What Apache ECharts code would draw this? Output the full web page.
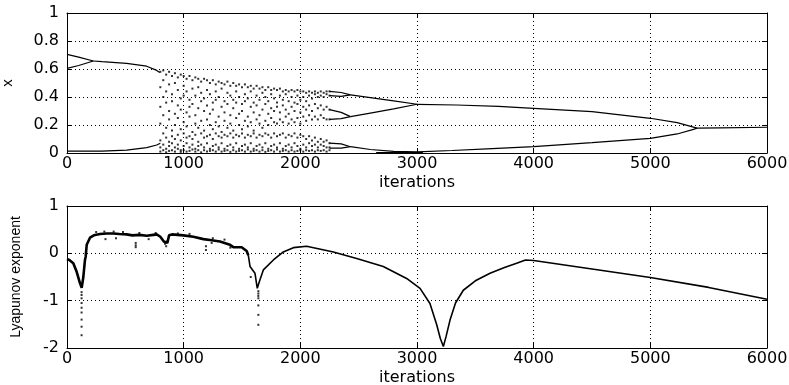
<!DOCTYPE html>
<html>
<head>
<meta charset="utf-8">
<script src="https://cdn.jsdelivr.net/npm/echarts@6/dist/echarts.min.js"></script>
<style>
html,body{margin:0;padding:0;background:#fff;}
#c{width:789px;height:385px;}
</style>
</head>
<body>
<div id="c"></div>
<script>
// ---------- top panel: bifurcation diagram (iterations, x) ----------
const branchEarlyA = [[0,0.705],[100,0.685],[226,0.657]];
const branchEarlyB = [[0,0.605],[100,0.625],[226,0.657]];
const branchEarlyTop = [[226,0.657],[300,0.652],[511,0.64],[683,0.62],[769,0.59],[795,0.575]];
const branchEarlyLow = [[0,0.014],[300,0.014],[511,0.021],[683,0.038],[769,0.057],[800,0.07]];
const branchUpA = [[2250,0.44],[2350,0.432],[2430,0.415]];
const branchUpB = [[2250,0.41],[2350,0.405],[2430,0.415]];
const branchUp = [[2430,0.415],[2600,0.395],[2800,0.372],[3000,0.348]];
const branchMidA = [[2250,0.31],[2350,0.29],[2430,0.26]];
const branchMidB = [[2250,0.24],[2350,0.245],[2430,0.26]];
const branchMid = [[2430,0.26],[2600,0.285],[2800,0.315],[3000,0.348]];
const branchLowA = [[2250,0.07],[2350,0.065],[2430,0.045]];
const branchLowB = [[2250,0.035],[2350,0.035],[2430,0.045]];
const branchLow = [[2430,0.045],[2600,0.025],[2800,0.012],[3000,0.008],[3300,0.018],[3600,0.03],[4000,0.045],[4500,0.074],[5000,0.105],[5230,0.136],[5370,0.169],[5400,0.178]];
const branchNearZero = [[2650,0.003],[2800,0.002],[3050,0.003]];
const branchFinal = [[3000,0.348],[3340,0.343],[3700,0.333],[4000,0.319],[4500,0.295],[5000,0.248],[5230,0.217],[5400,0.178],[5600,0.18],[6000,0.184]];

const chaosIters = [800,825,850,875,900,925,950,975,1000,1025,1050,1075,1100,1125,1150,1175,1200,1225,1250,1275,1300,1325,1350,1375,1400,1425,1450,1475,1500,1525,1550,1575,1600,1625,1650,1675,1700,1725,1750,1775,1800,1825,1850,1875,1900,1925,1950,1975,2000,2025,2050,2075,2100,2125,2150,2175,2200,2225,2250];
const chaosCols = [
 [0.58,0.47,0.33,0.21,0.09,0.04,0.01],
 [0.59,0.52,0.40,0.27,0.14,0.06,0.02],
 [0.56,0.44,0.36,0.18,0.11,0.03,0.005],
 [0.58,0.49,0.30,0.24,0.08,0.05,0.015],
 [0.55,0.42,0.37,0.16,0.12,0.07,0.02],
 [0.57,0.50,0.28,0.20,0.10,0.04,0.01],
 [0.54,0.45,0.34,0.25,0.13,0.06,0.03],
 [0.56,0.39,0.31,0.17,0.09,0.02,0.008],
 [0.55,0.48,0.41,0.22,0.14,0.05,0.02],
 [0.53,0.44,0.29,0.19,0.11,0.07,0.01],
 [0.55,0.38,0.33,0.26,0.12,0.04,0.015],
 [0.52,0.46,0.35,0.15,0.10,0.06,0.025],
 [0.54,0.41,0.27,0.21,0.13,0.03,0.01],
 [0.53,0.47,0.32,0.18,0.08,0.05,0.02],
 [0.51,0.43,0.37,0.23,0.14,0.06,0.005],
 [0.53,0.39,0.30,0.16,0.11,0.04,0.02],
 [0.52,0.45,0.34,0.24,0.12,0.07,0.01],
 [0.50,0.42,0.28,0.20,0.13,0.03,0.015],
 [0.52,0.36,0.31,0.17,0.10,0.05,0.02],
 [0.49,0.44,0.38,0.22,0.14,0.06,0.01],
 [0.51,0.40,0.26,0.19,0.12,0.04,0.025],
 [0.50,0.46,0.33,0.15,0.11,0.07,0.01],
 [0.49,0.37,0.29,0.23,0.13,0.03,0.015],
 [0.51,0.43,0.35,0.18,0.12,0.05,0.02],
 [0.48,0.41,0.27,0.21,0.14,0.06,0.008],
 [0.50,0.38,0.32,0.16,0.11,0.04,0.02],
 [0.48,0.44,0.36,0.25,0.13,0.07,0.01],
 [0.49,0.40,0.28,0.20,0.12,0.03,0.015],
 [0.47,0.35,0.30,0.17,0.14,0.05,0.02],
 [0.49,0.42,0.37,0.23,0.11,0.06,0.01],
 [0.47,0.39,0.26,0.19,0.13,0.04,0.025],
 [0.48,0.44,0.33,0.22,0.12,0.07,0.01],
 [0.46,0.36,0.29,0.16,0.14,0.03,0.015],
 [0.48,0.41,0.34,0.24,0.11,0.05,0.02],
 [0.46,0.38,0.27,0.21,0.13,0.06,0.01],
 [0.47,0.43,0.31,0.18,0.12,0.04,0.02],
 [0.45,0.40,0.35,0.23,0.14,0.07,0.008],
 [0.47,0.37,0.28,0.20,0.13,0.03,0.015],
 [0.45,0.42,0.32,0.25,0.11,0.05,0.02],
 [0.46,0.39,0.30,0.22,0.14,0.06,0.01],
 [0.45,0.36,0.33,0.21,0.12,0.04,0.025],
 [0.46,0.41,0.29,0.24,0.13,0.07,0.01],
 [0.44,0.38,0.34,0.22,0.14,0.03,0.015],
 [0.45,0.42,0.31,0.26,0.11,0.05,0.02],
 [0.44,0.37,0.28,0.21,0.13,0.06,0.01],
 [0.45,0.40,0.33,0.24,0.12,0.04,0.02],
 [0.44,0.36,0.30,0.22,0.14,0.07,0.01],
 [0.45,0.41,0.35,0.25,0.11,0.05,0.015],
 [0.44,0.38,0.29,0.21,0.13,0.03,0.02],
 [0.44,0.40,0.33,0.26,0.12,0.06,0.01],
 [0.43,0.37,0.31,0.23,0.10,0.04,0.02],
 [0.44,0.41,0.34,0.27,0.12,0.07,0.015],
 [0.43,0.39,0.30,0.24,0.09,0.05,0.02],
 [0.44,0.42,0.35,0.26,0.11,0.06,0.01],
 [0.43,0.40,0.32,0.24,0.08,0.04,0.02],
 [0.44,0.41,0.34,0.27,0.10,0.06,0.015],
 [0.43,0.40,0.31,0.25,0.08,0.05,0.02],
 [0.44,0.42,0.33,0.24,0.09,0.04,0.01],
 [0.44,0.41,0.31,0.24,0.07,0.04,0.02]
];

// ---------- bottom panel: Lyapunov exponent ----------
const lyapChaotic = [[0,-0.12],[20,-0.14],[54,-0.21],[83,-0.39],[111,-0.63],[126,-0.73],[140,-0.5],[154,-0.14],[160,-0.07],[169,0.18],[197,0.33],[230,0.38],[283,0.41],[340,0.42],[397,0.42],[450,0.41],[511,0.40],[560,0.38],[620,0.39],[683,0.37],[740,0.39],[769,0.40],[800,0.35],[830,0.25],[860,0.22],[875,0.38],[900,0.40],[997,0.38],[1083,0.35],[1169,0.30],[1226,0.28],[1311,0.25],[1397,0.18],[1426,0.13],[1497,0.13],[1540,0.05],[1554,-0.04]];
const lyapRegular = [[1554,-0.04],[1569,-0.28],[1611,-0.42],[1631,-0.74],[1654,-0.56],[1683,-0.35],[1769,-0.14],[1854,0.03],[1940,0.12],[2054,0.15],[2283,0.03],[2483,-0.11],[2711,-0.28],[2911,-0.53],[3026,-0.74],[3111,-1.06],[3169,-1.51],[3200,-1.8],[3226,-1.97],[3250,-1.75],[3283,-1.41],[3330,-1.05],[3397,-0.78],[3500,-0.58],[3626,-0.42],[3750,-0.3],[3854,-0.21],[3930,-0.14],[4000,-0.15],[4500,-0.33],[5000,-0.51],[5500,-0.72],[6000,-0.97]];
const lyapSpikes = [[125,-0.82],[125,-0.88],[125,-0.95],[125,-1.05],[125,-1.15],[125,-1.25],[125,-1.4],[125,-1.55],[125,-1.73],
 [1640,-0.8],[1640,-0.85],[1640,-0.9],[1640,-0.95],[1640,-1.1],[1640,-1.3],[1640,-1.51],[1575,-0.5],
 [330,0.3],[420,0.32],[589,0.22],[589,0.17],[589,0.13],[700,0.3],[840,0.2],[850,0.15],[860,0.26],[1191,0.15],[1191,0.07],[1240,0.22],[1400,0.12],
 [250,0.45],[320,0.46],[400,0.46],[480,0.45],[620,0.43],[760,0.43],[950,0.42],[1050,0.41],[1250,0.32],[1350,0.29]];

const iterMin = 0, iterMax = 6000, iterStep = 1000;

const tickFont = 'DejaVu Sans, Verdana, sans-serif';
const nameFont = 'Liberation Sans, Arial, sans-serif';
const dotted = {show:true, lineStyle:{color:'#000', type:[1,3], width:1}};
function xAx(gi, withLabels){
  return {type:'value', gridIndex:gi, min:iterMin, max:iterMax, interval:iterStep,
    name: withLabels ? 'iterations' : '', nameLocation:'middle', nameGap:22,
    nameTextStyle:{color:'#000', fontFamily:tickFont, fontSize:16},
    axisLine:{show:true, onZero:false, lineStyle:{color:'#000', width:1}},
    axisTick:{show:true, inside:true, length:5, lineStyle:{color:'#000'}},
    axisLabel:{show:withLabels, color:'#000', fontFamily:tickFont, fontSize:16, margin:3,
      formatter: v => String(v)},
    splitLine: withLabels ? dotted : {show:false},
    position: withLabels ? 'bottom' : 'top'};
}
function yAx(gi, min, max, step, name, gap, left, nameSize){
  return {type:'value', gridIndex:gi, min:min, max:max, interval:step,
    name: left ? name : '', nameLocation:'middle', nameRotate:90, nameGap:gap,
    nameTextStyle:{color:'#000', fontFamily:nameFont, fontSize:nameSize},
    axisLine:{show:true, onZero:false, lineStyle:{color:'#000', width:1}},
    axisTick:{show:true, inside:true, length:5, lineStyle:{color:'#000'}},
    axisLabel:{show:left, color:'#000', fontFamily:tickFont, fontSize:16, margin:8,
      formatter: v => String(v)},
    splitLine: left ? dotted : {show:false},
    position: left ? 'left' : 'right'};
}
function lineS(data, xi, yi, w){
  return {type:'line', data:data, xAxisIndex:xi, yAxisIndex:yi, showSymbol:false, symbol:'none',
    lineStyle:{color:'#000', width:w}, silent:true, z:3};
}
const series = [];
[branchEarlyA,branchEarlyB,branchEarlyTop,branchEarlyLow,branchUpA,branchUpB,branchUp,branchMidA,branchMidB,branchMid,branchLowA,branchLowB,branchLow,branchNearZero,branchFinal]
  .forEach(b => series.push(lineS(b,0,0,1.2)));
const chaosPts = [];
chaosIters.forEach((it,i) => chaosCols[i].forEach(v => chaosPts.push([it, v])));
series.push({type:'scatter', data:chaosPts, xAxisIndex:0, yAxisIndex:0, symbol:'rect', symbolSize:2,
  itemStyle:{color:'#000'}, silent:true, z:3});
series.push(lineS(lyapChaotic,2,2,2.6));
series.push(lineS(lyapRegular,2,2,1.6));
series.push({type:'scatter', data:lyapSpikes, xAxisIndex:2, yAxisIndex:2, symbol:'rect', symbolSize:2,
  itemStyle:{color:'#000'}, silent:true, z:3});

const chart = echarts.init(document.getElementById('c'), null, {renderer:'canvas'});
chart.setOption({
  backgroundColor:'#fff',
  animation:false,
  grid:[
    {left:67, right:22, top:13, height:140, containLabel:false, outerBoundsMode:'none'},
    {left:67, right:22, top:206, height:142, containLabel:false, outerBoundsMode:'none'}
  ],
  xAxis:[xAx(0,true), xAx(0,false), xAx(1,true), xAx(1,false)],
  yAxis:[yAx(0,0,1,0.2,'x',52,true,15), yAx(0,0,1,0.2,'',0,false,15),
         yAx(1,-2,1,1,'Lyapunov exponent',44,true,14), yAx(1,-2,1,1,'',0,false,14)],
  series:series
});
</script>
</body>
</html>
